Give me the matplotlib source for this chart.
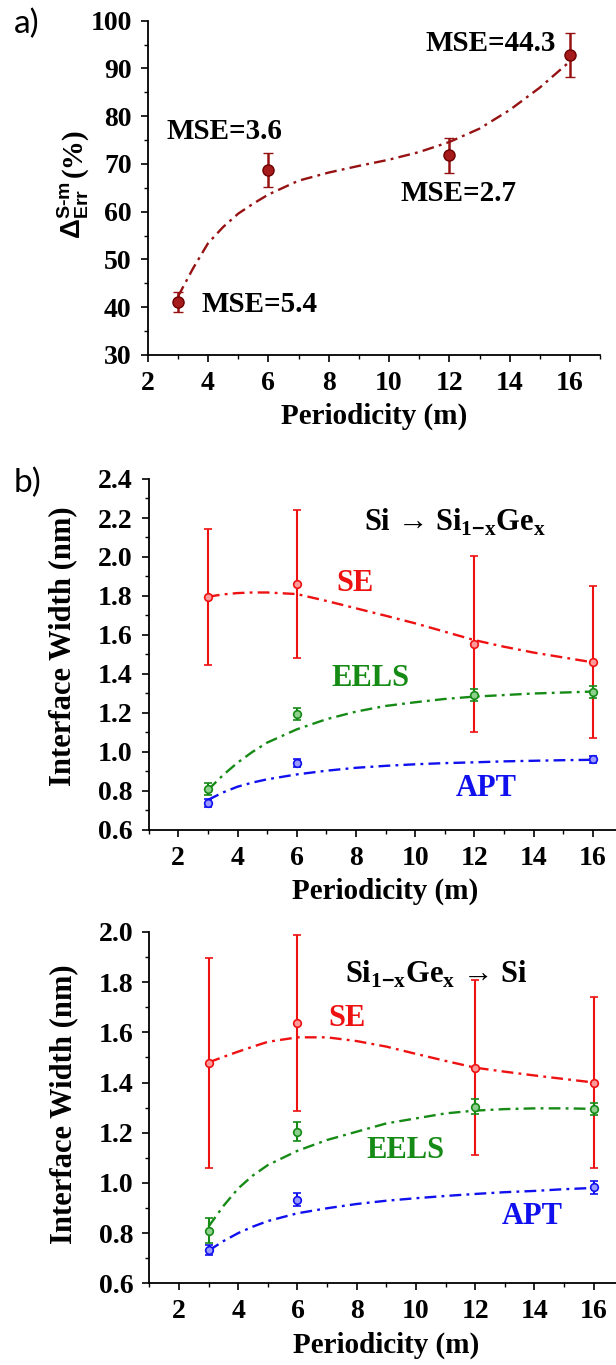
import matplotlib
matplotlib.use("Agg")
import matplotlib.pyplot as plt
from matplotlib.ticker import MultipleLocator, FormatStrFormatter

plt.rcParams.update({
    "font.family": ["Liberation Serif", "DejaVu Serif"],
    "font.weight": "bold",
    "axes.labelweight": "bold",
    "mathtext.fontset": "custom",
    "mathtext.rm": "Liberation Sans",
    "mathtext.sf": "Liberation Sans",
    "mathtext.it": "Liberation Sans:italic",
    "mathtext.bf": "Liberation Serif:bold",
    "axes.linewidth": 1.3,
})

# ---------------- panel a: relative error vs periodicity ----------------
period_a = [3, 6, 12, 16]
delta_err = [41.0, 68.7, 71.8, 92.8]
delta_err_sd = [2.1, 3.5, 3.7, 4.65]
mse_labels = ["MSE=5.4", "MSE=3.6", "MSE=2.7", "MSE=44.3"]
fit_x_a = [3, 3.5, 4, 4.5, 5, 5.5, 6, 7, 8, 9, 10, 11, 12, 13, 14, 15, 16]
fit_y_a = [42.2, 48.1, 53.4, 56.8, 59.6, 61.7, 63.6, 66.5, 68.2, 69.6,
           70.9, 72.5, 74.6, 77.4, 81.3, 86.0, 91.5]

# ---------------- panel b: interface widths ----------------
period = [3, 6, 12, 16]
period_apt = [3, 6, 16]
fit_x = [3, 3.5, 4, 4.5, 5, 6, 7, 8, 9, 10, 11, 12, 13, 14, 15, 16]

# Si -> Si(1-x)Ge(x)
se_up = [1.796, 1.86, 1.554, 1.462]
se_up_sd = [0.35, 0.38, 0.453, 0.39]
eels_up = [0.809, 1.195, 1.291, 1.306]
eels_up_sd = [0.03, 0.03, 0.03, 0.03]
apt_up = [0.740, 0.942, 0.962]
apt_up_sd = [0.02, 0.02, 0.02]
se_up_fit = [1.796, 1.808, 1.815, 1.818, 1.818, 1.810, 1.775, 1.737, 1.699,
             1.660, 1.617, 1.574, 1.540, 1.510, 1.485, 1.460]
eels_up_fit = [0.805, 0.880, 0.945, 1.000, 1.048, 1.116, 1.168, 1.207, 1.236,
               1.255, 1.272, 1.284, 1.292, 1.300, 1.305, 1.310]
apt_up_fit = [0.754, 0.792, 0.822, 0.843, 0.860, 0.885, 0.904, 0.919, 0.929,
              0.937, 0.943, 0.947, 0.952, 0.955, 0.958, 0.960]

# Si(1-x)Ge(x) -> Si
se_dn = [1.479, 1.636, 1.459, 1.400]
se_dn_sd = [0.419, 0.35, 0.349, 0.34]
eels_dn = [0.810, 1.204, 1.304, 1.295]
eels_dn_sd = [0.05, 0.039, 0.03, 0.025]
apt_dn = [0.733, 0.932, 0.982]
apt_dn_sd = [0.02, 0.026, 0.025]
se_dn_fit = [1.480, 1.502, 1.523, 1.543, 1.562, 1.580, 1.580, 1.565, 1.543,
             1.514, 1.486, 1.459, 1.443, 1.428, 1.414, 1.400]
eels_dn_fit = [0.826, 0.908, 0.978, 1.030, 1.071, 1.128, 1.171, 1.204, 1.237,
               1.257, 1.277, 1.288, 1.294, 1.297, 1.297, 1.295]
apt_dn_fit = [0.730, 0.768, 0.800, 0.826, 0.848, 0.879, 0.899, 0.916, 0.929,
              0.939, 0.948, 0.956, 0.963, 0.968, 0.975, 0.980]

DASHDOT = (0, (5, 2.2, 1.2, 2.2))
TICK_FS = 20
LABEL_FS = 21

W, H = 616, 1365
fig = plt.figure(figsize=(W / 100, H / 100), dpi=100)
fig.patch.set_facecolor("white")


def px_axes(left, right, top, bottom):
    """Axes rectangle given in pixel edges (origin top-left)."""
    return fig.add_axes([left / W, 1 - bottom / H, (right - left) / W, (bottom - top) / H])


def style_axes(ax, xmin, xmax, ymin, ymax, ymajor, yminor):
    ax.set_xlim(xmin, xmax)
    ax.set_ylim(ymin, ymax)
    ax.spines["top"].set_visible(False)
    ax.spines["right"].set_visible(False)
    ax.xaxis.set_major_locator(MultipleLocator(2))
    ax.xaxis.set_minor_locator(MultipleLocator(1))
    ax.yaxis.set_major_locator(MultipleLocator(ymajor))
    ax.yaxis.set_minor_locator(MultipleLocator(yminor))
    ax.tick_params(which="major", direction="out", length=5, width=1.2,
                   labelsize=TICK_FS, pad=6.5)
    ax.tick_params(which="minor", direction="out", length=3, width=1.0)
    for lab in ax.get_xticklabels() + ax.get_yticklabels():
        lab.set_fontweight("bold")
    ax.set_xlabel("Periodicity (m)", fontsize=LABEL_FS, fontweight="bold", labelpad=5)


# ---------------- panel a ----------------
axa = px_axes(147.7, 600.2, 20.7, 355)
style_axes(axa, 2, 17, 30, 100, 10, 5)
dark_red = "#961212"
axa.plot(fit_x_a, fit_y_a, color=dark_red, lw=1.7, linestyle=DASHDOT, zorder=2)
axa.errorbar(period_a, delta_err, yerr=delta_err_sd, fmt="o", color=dark_red,
             ms=8, mfc="#a51a1a", mec="#6e0000", mew=1.0, elinewidth=1.8,
             capsize=3.6, capthick=1.8, zorder=3)
mse_pos = [(3.78, 40.5, "left"), (4.54, 76.9, "center"),
           (12.3, 63.8, "center"), (13.37, 95.2, "center")]
for (x, y, ha), txt in zip(mse_pos, mse_labels):
    axa.text(x, y, txt, fontsize=LABEL_FS, fontweight="bold", ha=ha, va="center")

# y label: thin sans Delta with stacked scripts, followed by bold "(%)"
ylab_x, ylab_y = -0.146, 0.52
axa.text(ylab_x, ylab_y, r"$\mathsf{\Delta}^{\mathsf{S\text{-}m}}_{\mathsf{Err}}$",
         transform=axa.transAxes, rotation=90, rotation_mode="anchor",
         ha="right", va="baseline", fontsize=20, family="Liberation Sans",
         fontweight="normal")
axa.text(ylab_x, ylab_y + 0.012, "(%)", transform=axa.transAxes, rotation=90,
         rotation_mode="anchor", ha="left", va="baseline", fontsize=LABEL_FS,
         fontweight="bold")
fig.text(27 / W, 1 - 24 / H, "a)", fontsize=24, family="Lato", fontweight="normal",
         ha="center", va="center")


# ---------------- panel b ----------------
def width_panel(ax, se, se_sd, eels, eels_sd, apt, apt_sd,
                se_fit, eels_fit, apt_fit, title, title_xy, lab_xy):
    colors = {"SE": "#ee1111", "EELS": "#158a15", "APT": "#1010ee"}
    faces = {"SE": "#ff9a9a", "EELS": "#8fd08f", "APT": "#9a9aff"}
    series = [("SE", period, se, se_sd, se_fit),
              ("EELS", period, eels, eels_sd, eels_fit),
              ("APT", period_apt, apt, apt_sd, apt_fit)]
    for name, xs, ys, sd, fit in series:
        c = colors[name]
        ax.plot(fit_x, fit, color=c, lw=1.7, linestyle=DASHDOT, zorder=2)
        ax.errorbar(xs, ys, yerr=sd, fmt="o", color=c, ms=5.5, mfc=faces[name],
                    mec=c, mew=1.2, elinewidth=1.5, capsize=3.0, capthick=1.5,
                    zorder=3)
    for name in ("SE", "EELS", "APT"):
        x, y = lab_xy[name]
        ax.text(x, y, name, color=colors[name], fontsize=22, fontweight="bold",
                ha="center", va="center")
    ax.text(title_xy[0], title_xy[1], title, fontsize=22, fontweight="bold",
            ha="center", va="center")
    ax.set_ylabel("Interface Width (nm)", fontsize=22, fontweight="bold")


SUB_1MX = r"$_{\mathbf{1}\text{−}\mathbf{x}}$"
SUB_X = r"$_{\mathbf{x}}$"

axb1 = px_axes(148.7, 148.7 + 16 * 29.6, 479, 830)
style_axes(axb1, 1, 17, 0.6, 2.4, 0.2, 0.1)
axb1.yaxis.set_major_formatter(FormatStrFormatter("%.1f"))
width_panel(axb1, se_up, se_up_sd, eels_up, eels_up_sd, apt_up, apt_up_sd,
            se_up_fit, eels_up_fit, apt_up_fit,
            "Si → Si" + SUB_1MX + "Ge" + SUB_X, (11.35, 2.175),
            {"SE": (7.97, 1.865), "EELS": (8.48, 1.375), "APT": (12.41, 0.814)})
axb1.yaxis.set_label_coords(-0.15, 0.524)
fig.text(27 / W, 1 - 483 / H, "b)", fontsize=24, family="Lato", fontweight="normal",
         ha="center", va="center")

axb2 = px_axes(149.3, 149.3 + 16 * 29.63, 931.9, 1283.3)
style_axes(axb2, 1, 17, 0.6, 2.0, 0.2, 0.1)
axb2.yaxis.set_major_formatter(FormatStrFormatter("%.1f"))
width_panel(axb2, se_dn, se_dn_sd, eels_dn, eels_dn_sd, apt_dn, apt_dn_sd,
            se_dn_fit, eels_dn_fit, apt_dn_fit,
            "Si" + SUB_1MX + "Ge" + SUB_X + " → Si", (10.68, 1.83),
            {"SE": (7.66, 1.656), "EELS": (9.63, 1.131), "APT": (13.92, 0.866)})
axb2.yaxis.set_label_coords(-0.15, 0.51)

fig.savefig("out.png", dpi=100, facecolor="white")
